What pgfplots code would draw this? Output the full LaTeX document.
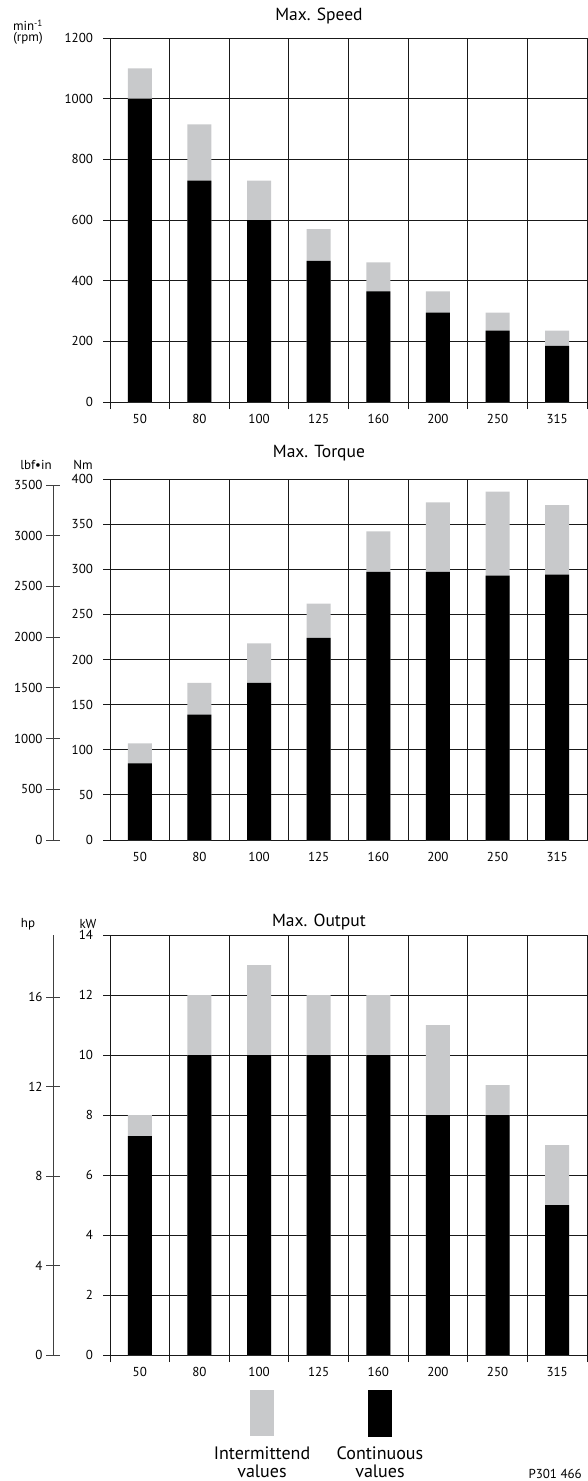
\documentclass[border=0pt]{standalone}
\usepackage{fontspec}
\setmainfont{PT Sans}
\usepackage{pgfplots}
\pgfplotsset{compat=1.18}
\definecolor{intgray}{RGB}{200,201,203}
\definecolor{gridc}{RGB}{25,25,25}
\pgfplotsset{
 panel/.style={
  scale only axis, width=477pt,
  xmin=0, xmax=8, ymin=0,
  axis line style={gridc, line width=0.9pt},
  xtick={0,1,...,8}, xticklabels={},
  extra x ticks={0.5,1.5,...,7.5},
  extra x tick labels={50,80,100,125,160,200,250,315},
  extra x tick style={grid=none, major tick length=0pt, xticklabel style={yshift=-9pt}},
  xmajorgrids, ymajorgrids,
  major grid style={gridc, line width=0.9pt},
  tick style={gridc, line width=0.9pt},
  tick align=outside, major tick length=7pt,
  xtick pos=bottom, ytick pos=left,
  tick label style={font=\fontsize{13}{15}\selectfont},
  yticklabel style={xshift=-6.5pt},
  /pgf/number format/assume math mode=true,
  /pgf/number format/1000 sep={},
  title style={font=\fontsize{17.5}{20}\selectfont, at={(0.438,1)}, anchor=base},
 },
 second/.style={
  scale only axis, width=1pt, xmin=0, xmax=1, axis x line=none, axis y line*=left, ymin=0,
  axis line style={black!75, line width=0.9pt},
  tick style={black!75, line width=0.9pt},
  tick align=center, major tick length=14pt,
  tick label style={font=\fontsize{13}{15}\selectfont},
  /pgf/number format/assume math mode=true,
  /pgf/number format/1000 sep={},
 },
 intbar/.style={ybar, bar width=24pt, bar shift=0pt, fill=intgray, draw=none},
 conbar/.style={ybar, bar width=24pt, bar shift=0pt, fill=black, draw=none},
}
\begin{document}
\begin{tikzpicture}
\path[use as bounding box] (0,0) rectangle (587pt,-1481pt);
% ---------------- Max. Speed
\begin{axis}[panel, at={(110pt,-402pt)}, anchor=south west, height=364pt,
  ymax=1200, ytick={0,200,...,1200},
  title={Max. Speed}, title style={yshift=11.6pt}]
\addplot[intbar] coordinates {(0.5,1100) (1.5,915) (2.5,730) (3.5,570) (4.5,460) (5.5,365) (6.5,295) (7.5,235)};
\addplot[conbar] coordinates {(0.5,1000) (1.5,730) (2.5,600) (3.5,465) (4.5,365) (5.5,295) (6.5,235) (7.5,185)};
\end{axis}
\node[font=\fontsize{13}{15}\selectfont] at (28pt,-25pt) {min\textsuperscript{-1}};
\node[font=\fontsize{13}{15}\selectfont] at (28pt,-38pt) {(rpm)};
% ---------------- Max. Torque
\begin{axis}[panel, at={(110pt,-840pt)}, anchor=south west, height=361pt,
  ymax=400, ytick={0,50,...,400}, xtick style={draw=none},
  title={Max. Torque}, title style={yshift=16pt}]
\addplot[intbar] coordinates {(0.5,107) (1.5,174) (2.5,218) (3.5,262) (4.5,342) (5.5,374) (6.5,386) (7.5,371)};
\addplot[conbar] coordinates {(0.5,85) (1.5,139) (2.5,174) (3.5,224) (4.5,297) (5.5,297) (6.5,293) (7.5,294)};
\end{axis}
\begin{axis}[second, at={(53pt,-840pt)}, anchor=south west, height=355pt,
  ymax=3500, ytick={0,500,...,3500}]
\end{axis}
\node[font=\fontsize{13}{15}\selectfont] at (36pt,-465pt) {lbf\textbullet in};
\node[font=\fontsize{13}{15}\selectfont] at (83pt,-465pt) {Nm};
% ---------------- Max. Output
\begin{axis}[panel, at={(110pt,-1355pt)}, anchor=south west, height=420pt,
  ymax=14, ytick={0,2,...,14},
  title={Max. Output}, title style={yshift=3pt}]
\addplot[intbar] coordinates {(0.5,8) (1.5,12) (2.5,13) (3.5,12) (4.5,12) (5.5,11) (6.5,9) (7.5,7)};
\addplot[conbar] coordinates {(0.5,7.3) (1.5,10) (2.5,10) (3.5,10) (4.5,10) (5.5,8) (6.5,8) (7.5,5)};
\end{axis}
\begin{axis}[second, at={(53pt,-1355pt)}, anchor=south west, height=420pt,
  ymax=18.775, ytick={0,4,...,16}]
\end{axis}
\node[font=\fontsize{13}{15}\selectfont] at (28pt,-924pt) {hp};
\node[font=\fontsize{13}{15}\selectfont] at (88pt,-924pt) {kW};
% ---------------- legend
\fill[intgray] (250pt,-1390pt) rectangle (274pt,-1436pt);
\fill[black] (368pt,-1390pt) rectangle (392pt,-1437pt);
\node[anchor=base, font=\fontsize{18}{21}\selectfont, inner sep=0pt] at (262pt,-1459pt) {Intermittend};
\node[anchor=base, font=\fontsize{18}{21}\selectfont, inner sep=0pt] at (262pt,-1477pt) {values};
\node[anchor=base, font=\fontsize{18}{21}\selectfont, inner sep=0pt] at (380pt,-1459pt) {Continuous};
\node[anchor=base, font=\fontsize{18}{21}\selectfont, inner sep=0pt] at (380pt,-1477pt) {values};
\node[anchor=base east, font=\fontsize{13}{15}\selectfont, inner sep=0pt] at (582pt,-1478pt) {P301 466};
\end{tikzpicture}
\end{document}
